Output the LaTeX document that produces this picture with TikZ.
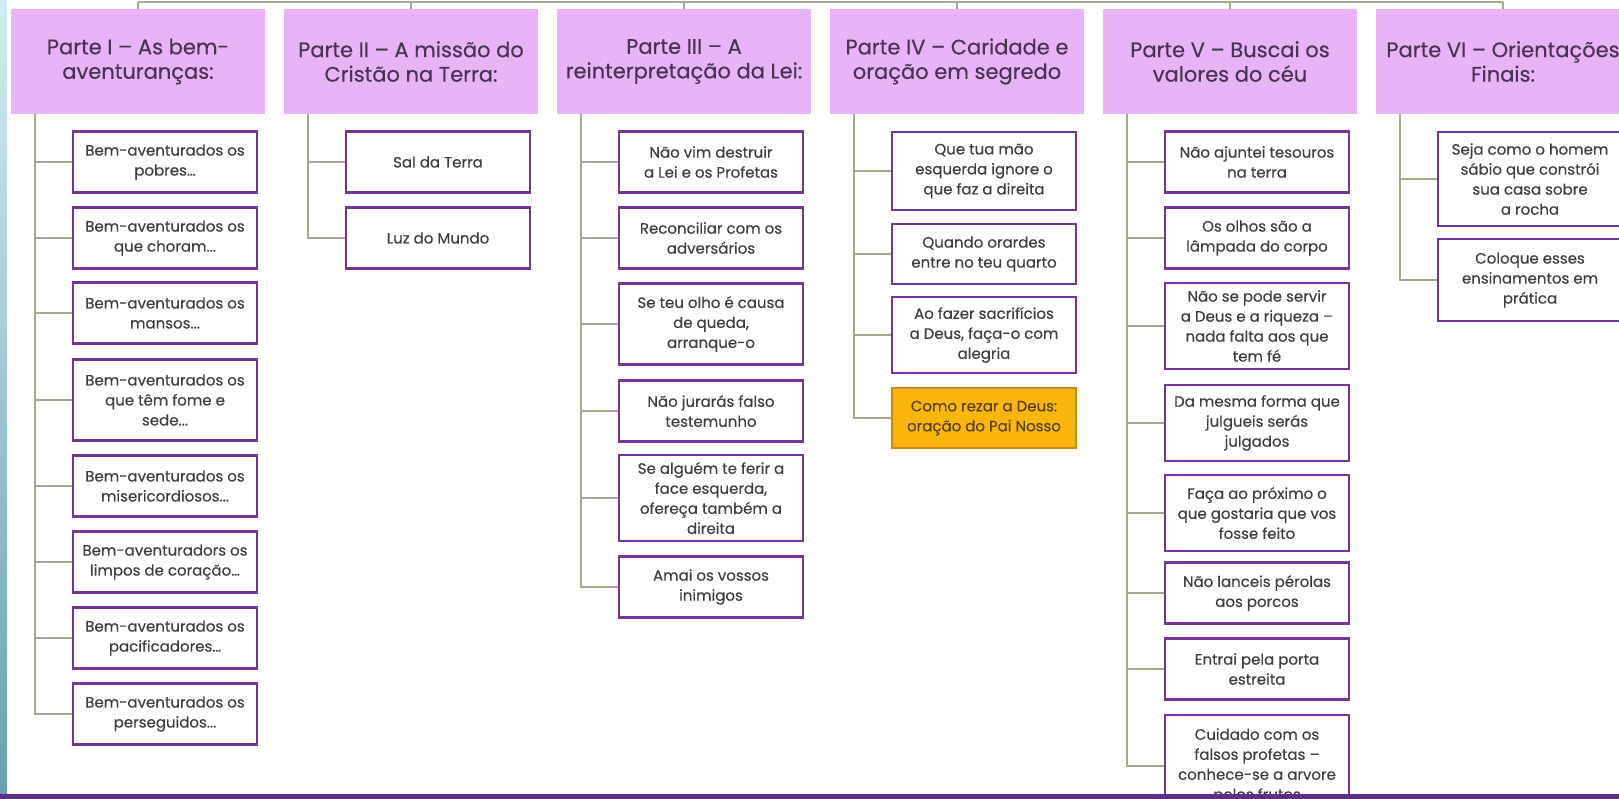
\documentclass[tikz,border=0pt]{standalone}
\usepackage{fontspec}
\newfontfamily\gothic{Poppins}[FakeBold=0.3]
\usetikzlibrary{arrows.meta}
\definecolor{lilac}{RGB}{232,180,247}
\definecolor{plum}{RGB}{118,52,152}
\definecolor{ink}{RGB}{62,62,62}
\definecolor{headink}{RGB}{74,50,84}
\definecolor{olive}{RGB}{168,166,140}
\definecolor{amber}{RGB}{250,182,12}
\definecolor{amberline}{RGB}{205,135,20}
\definecolor{amberink}{RGB}{90,66,28}
\definecolor{barpurple}{RGB}{98,44,138}
\definecolor{stripetop}{RGB}{210,236,242}
\definecolor{stripebot}{RGB}{105,160,176}
\tikzset{
  part/.style={fill=lilac, text=headink, minimum width=254pt, minimum height=105pt,
    align=center, font=\gothic\fontsize{21}{24.5}\selectfont},
  item/.style={draw=plum, line width=2.6pt, fill=white, text=ink, minimum width=184pt,
    minimum height=61pt, inner xsep=2pt, inner ysep=1pt, align=center,
    font=\gothic\fontsize{15}{20}\selectfont},
  hot/.style={item, fill=amber, draw=amberline, text=amberink},
  link/.style={draw=olive, line width=2pt},
  elbow/.style={to path={|- (\tikztotarget)}}
}

\begin{document}
\begin{tikzpicture}[x=1pt,y=-1pt]
  \useasboundingbox (0,0) rectangle (1619,799);
  \clip (0,0) rectangle (1619,799);
  \shade[top color=stripetop, bottom color=stripebot] (0,0) rectangle (7,799);

  % the six parts
  \node[part] (1) at (138,61.5) {Parte I – As bem-\\aventuranças:};
  \node[part] (2) at (411,61.5) {Parte II – A missão do\\Cristão na Terra:};
  \node[part] (3) at (684,61.5) {Parte III – A\\reinterpretação da Lei:};
  \node[part] (4) at (957,61.5) {Parte IV – Caridade e\\oração em segredo};
  \node[part] (5) at (1230,61.5) {Parte V – Buscai os\\valores do céu};
  \node[part] (6) at (1503,61.5) {Parte VI – Orientações\\Finais:};

  \node[item] (1a) at (165,162) {Bem-aventurados os\\pobres…};
  \node[item] (1b) at (165,238) {Bem-aventurados os\\que choram...};
  \node[item] (1c) at (165,313) {Bem-aventurados os\\mansos...};
  \node[item, minimum height=81pt] (1d) at (165,400) {Bem-aventurados os\\que têm fome e\\sede...};
  \node[item] (1e) at (165,486) {Bem-aventurados os\\misericordiosos...};
  \node[item] (1f) at (165,562) {Bem-aventuradors os\\limpos de coração…};
  \node[item] (1g) at (165,638) {Bem-aventurados os\\pacificadores…};
  \node[item] (1h) at (165,714) {Bem-aventurados os\\perseguidos...};

  \node[item] (2a) at (438,162) {Sal da Terra};
  \node[item] (2b) at (438,238) {Luz do Mundo};

  \node[item] (3a) at (711,162) {Não vim destruir\\a Lei e os Profetas};
  \node[item] (3b) at (711,238) {Reconciliar com os\\adversários};
  \node[item, minimum height=81pt] (3c) at (711,324) {Se teu olho é causa\\de queda,\\arranque-o};
  \node[item] (3d) at (711,411) {Não jurarás falso\\testemunho};
  \node[item, minimum height=86pt] (3e) at (711,498) {Se alguém te ferir a\\face esquerda,\\ofereça também a\\direita};
  \node[item] (3f) at (711,587) {Amai os vossos\\inimigos};

  \node[item, minimum height=78pt] (4a) at (984,171) {Que tua mão\\esquerda ignore o\\que faz a direita};
  \node[item, minimum height=60pt] (4b) at (984,254) {Quando orardes\\entre no teu quarto};
  \node[item, minimum height=76pt] (4c) at (984,335) {Ao fazer sacrifícios\\a Deus, faça-o com\\alegria};
  \node[hot, minimum height=60pt] (4d) at (984,418) {Como rezar a Deus:\\oração do Pai Nosso};

  \node[item] (5a) at (1257,162) {Não ajuntei tesouros\\na terra};
  \node[item] (5b) at (1257,238) {Os olhos são a\\lâmpada do corpo};
  \node[item, minimum height=86pt] (5c) at (1257,326) {Não se pode servir\\a Deus e a riqueza –\\nada falta aos que\\tem fé};
  \node[item, minimum height=76pt] (5d) at (1257,423) {Da mesma forma que\\julgueis serás\\julgados};
  \node[item, minimum height=76pt] (5e) at (1257,513) {Faça ao próximo o\\que gostaria que vos\\fosse feito};
  \node[item] (5f) at (1257,593) {Não lanceis pérolas\\aos porcos};
  \node[item] (5g) at (1257,669) {Entrai pela porta\\estreita};
  \node[item, minimum height=102pt] (5h) at (1257,766) {Cuidado com os\\falsos profetas –\\conhece-se a arvore\\pelos frutos};

  \node[item, minimum height=94pt] (6a) at (1530,179) {Seja como o homem\\sábio que constrói\\sua casa sobre\\a rocha};
  \node[item, minimum height=82pt] (6b) at (1530,280) {Coloque esses\\ensinamentos em\\prática};

  % top bar and trunks
  \coordinate (top) at (0,2);
  \path[link]
  (1.north |- top) edge (6.north |- top)
  (1.north) edge (1.north |- top)
  (2.north) edge (2.north |- top)
  (3.north) edge (3.north |- top)
  (4.north) edge (4.north |- top)
  (5.north) edge (5.north |- top)
  (6.north) edge (6.north |- top);

  \coordinate (t1) at ([xshift=24pt]1.south west);
  \coordinate (t2) at ([xshift=24pt]2.south west);
  \coordinate (t3) at ([xshift=24pt]3.south west);
  \coordinate (t4) at ([xshift=24pt]4.south west);
  \coordinate (t5) at ([xshift=24pt]5.south west);
  \coordinate (t6) at ([xshift=24pt]6.south west);

  \path[link]
  (t1) edge[elbow] (1a.west) (t1) edge[elbow] (1b.west) (t1) edge[elbow] (1c.west)
  (t1) edge[elbow] (1d.west) (t1) edge[elbow] (1e.west) (t1) edge[elbow] (1f.west)
  (t1) edge[elbow] (1g.west) (t1) edge[elbow] (1h.west)
  (t2) edge[elbow] (2a.west) (t2) edge[elbow] (2b.west)
  (t3) edge[elbow] (3a.west) (t3) edge[elbow] (3b.west) (t3) edge[elbow] (3c.west)
  (t3) edge[elbow] (3d.west) (t3) edge[elbow] (3e.west) (t3) edge[elbow] (3f.west)
  (t4) edge[elbow] (4a.west) (t4) edge[elbow] (4b.west) (t4) edge[elbow] (4c.west)
  (t4) edge[elbow] (4d.west)
  (t5) edge[elbow] (5a.west) (t5) edge[elbow] (5b.west) (t5) edge[elbow] (5c.west)
  (t5) edge[elbow] (5d.west) (t5) edge[elbow] (5e.west) (t5) edge[elbow] (5f.west)
  (t5) edge[elbow] (5g.west) (t5) edge[elbow] (5h.west)
  (t6) edge[elbow] (6a.west) (t6) edge[elbow] (6b.west);

  \fill[barpurple] (0,794) rectangle (1619,799);
\end{tikzpicture}
\end{document}
